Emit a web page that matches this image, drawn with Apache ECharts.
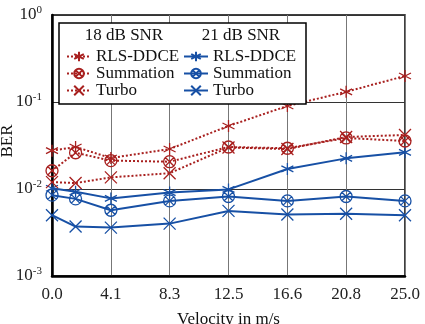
<!DOCTYPE html>
<html>
<head>
<meta charset="utf-8">
<script src="https://cdn.jsdelivr.net/npm/echarts@6/dist/echarts.min.js"></script>
<style>
  html, body { margin: 0; padding: 0; background: #fff; }
  #chart { width: 425px; height: 324px; }
</style>
</head>
<body>
<div id="chart"></div>
<script>
// Velocities (m/s) at which BER was measured
const velocities = [0, 1.67, 4.17, 8.33, 12.5, 16.67, 20.83, 25.0];
const xTickLabels = ['0.0', '4.1', '8.3', '12.5', '16.6', '20.8', '25.0'];

// 18 dB SNR
const rls18 = [0.0276, 0.0304, 0.0227, 0.0288, 0.0530, 0.0900, 0.131, 0.199];
const sum18 = [0.0162, 0.0261, 0.0212, 0.0206, 0.0304, 0.0294, 0.0386, 0.0356];
const turbo18 = [0.0120, 0.0117, 0.0136, 0.0152, 0.0300, 0.0288, 0.0396, 0.0418];

// 21 dB SNR
const rls21 = [0.0102, 0.0093, 0.0078, 0.0091, 0.0099, 0.0170, 0.0225, 0.0264];
const sum21 = [0.0085, 0.0077, 0.0057, 0.0073, 0.0082, 0.0073, 0.0082, 0.0073];
const turbo21 = [0.0050, 0.0037, 0.0036, 0.0040, 0.0056, 0.0051, 0.0052, 0.0050];

const RED = '#a8201f';
const BLUE = '#1750a5';
const FONT = 'Liberation Serif';

const SYM_AST = 'path://M10,0 L10,20 M1.34,5 L18.66,15 M1.34,15 L18.66,5';
const SYM_OTIMES = 'path://M20,10 A10,10 0 1 1 0,10 A10,10 0 1 1 20,10 Z M2.93,2.93 L17.07,17.07 M2.93,17.07 L17.07,2.93';
const SYM_X = 'path://M0,0 L20,20 M0,20 L20,0';

function pairs(ys) {
  return velocities.map((v, i) => [v, ys[i]]);
}

function makeSeries(name, ys, color, symbol, dotted) {
  return {
    name: name,
    type: 'line',
    data: pairs(ys),
    symbol: symbol,
    symbolSize: 12,
    showAllSymbol: true,
    lineStyle: { color: color, width: 2, type: dotted ? [2, 2] : 'solid' },
    itemStyle: { color: 'rgba(0,0,0,0)', borderColor: color, borderWidth: 1.3 },
    emphasis: { disabled: true },
    z: dotted ? 3 : 2
  };
}

const chart = echarts.init(document.getElementById('chart'), null, { renderer: 'canvas' });

const legendText = { fontFamily: FONT, fontSize: 17, color: '#111' };

chart.setOption({
  animation: false,
  backgroundColor: '#fff',
  textStyle: { fontFamily: FONT },
  grid: {
    left: 52, right: 20, top: 15, bottom: 48,
    outerBoundsMode: 'none',
    show: true, borderColor: '#000', borderWidth: 1.5
  },
  xAxis: {
    type: 'value',
    min: 0,
    max: 25,
    interval: 25 / 6,
    name: 'Velocity in m/s',
    nameLocation: 'middle',
    nameGap: 35,
    nameTextStyle: { fontFamily: FONT, fontSize: 17, color: '#111' },
    axisLine: { lineStyle: { color: '#000', width: 2.5 } },
    axisTick: { show: false },
    axisLabel: {
      fontFamily: FONT, fontSize: 17, color: '#222', margin: 10,
      formatter: v => xTickLabels[Math.round(v / (25 / 6))]
    },
    splitLine: { show: true, lineStyle: { color: '#777', width: 1 } }
  },
  yAxis: {
    type: 'log',
    logBase: 10,
    min: 0.001,
    max: 1,
    axisLine: { show: true, lineStyle: { color: '#000', width: 2.5 } },
    axisTick: { show: false },
    minorTick: { show: false },
    axisLabel: {
      margin: 10,
      formatter: v => '{b|10}{s|' + Math.round(Math.log10(v)) + '}',
      rich: {
        b: { fontFamily: FONT, fontSize: 17, color: '#222' },
        s: { fontFamily: FONT, fontSize: 11, color: '#222', padding: [0, 0, 9, 0] }
      }
    },
    splitLine: { show: true, lineStyle: { color: '#333', width: 1 } }
  },
  legend: [
    {
      orient: 'vertical',
      left: 66, top: 48, z: 60,
      padding: 0,
      itemGap: 0,
      itemWidth: 24, itemHeight: 12,
      textStyle: legendText,
      data: ['RLS-DDCE ', 'Summation ', 'Turbo ']
    },
    {
      orient: 'vertical',
      left: 183, top: 48, z: 60,
      padding: 0,
      itemGap: 0,
      itemWidth: 24, itemHeight: 12,
      textStyle: legendText,
      data: ['RLS-DDCE', 'Summation', 'Turbo']
    }
  ],
  graphic: [
    {
      type: 'text', x: 8, y: 141, rotation: Math.PI / 2, z: 51,
      style: { text: 'BER', font: '17px "Liberation Serif"', fill: '#111', align: 'center', verticalAlign: 'middle' }
    },
    {
      type: 'rect',
      shape: { x: 59, y: 23, width: 247, height: 81 },
      style: { fill: '#fff', stroke: '#000', lineWidth: 1.5 },
      z: 50
    },
    {
      type: 'text', x: 124, y: 36, z: 51,
      style: { text: '18 dB SNR', font: '17px "Liberation Serif"', fill: '#111', align: 'center', verticalAlign: 'middle' }
    },
    {
      type: 'text', x: 241, y: 36, z: 51,
      style: { text: '21 dB SNR', font: '17px "Liberation Serif"', fill: '#111', align: 'center', verticalAlign: 'middle' }
    }
  ],
  series: [
    makeSeries('RLS-DDCE ', rls18, RED, SYM_AST, true),
    makeSeries('Summation ', sum18, RED, SYM_OTIMES, true),
    makeSeries('Turbo ', turbo18, RED, SYM_X, true),
    makeSeries('RLS-DDCE', rls21, BLUE, SYM_AST, false),
    makeSeries('Summation', sum21, BLUE, SYM_OTIMES, false),
    makeSeries('Turbo', turbo21, BLUE, SYM_X, false)
  ]
});
</script>
</body>
</html>
